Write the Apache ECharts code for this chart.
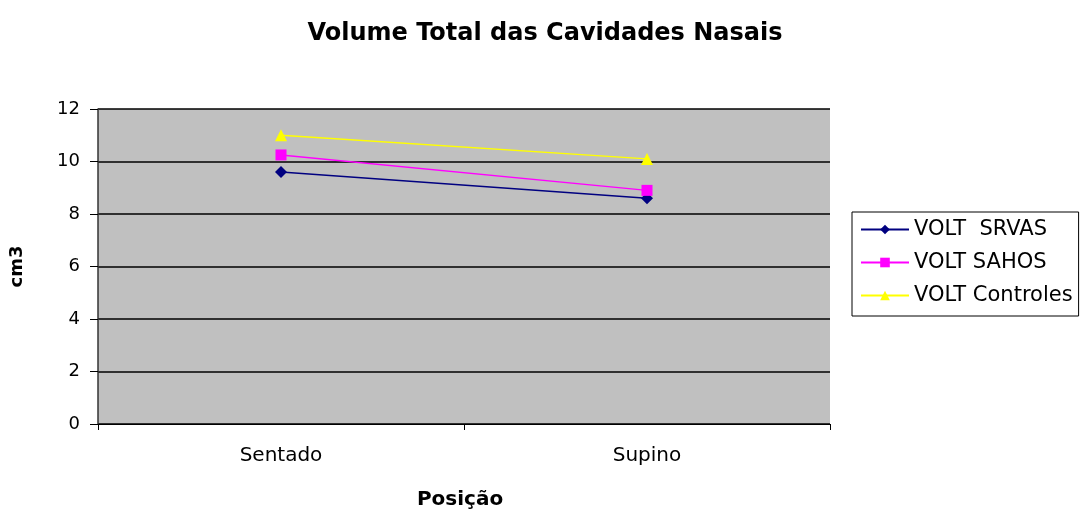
<!DOCTYPE html>
<html><head><meta charset="utf-8">
<script src="https://cdn.jsdelivr.net/npm/echarts@6/dist/echarts.min.js"></script>
<style>html,body{margin:0;padding:0;background:#fff}#c{width:1089px;height:518px}</style>
</head><body><div id="c"></div>
<script>
var categories = ['Sentado', 'Supino'];
var srvas = [9.6, 8.6];
var sahos = [10.25, 8.9];
var controles = [11.0, 10.1];
var seriesNames = ['VOLT  SRVAS', 'VOLT SAHOS', 'VOLT Controles'];

var font = 'DejaVu Sans, Verdana, sans-serif';
var chart = echarts.init(document.getElementById('c'), null, {renderer: 'canvas'});
function mk(name, data, color, symbol, size) {
  return {
    name: name, type: 'line', data: data, symbol: symbol, symbolSize: size,
    lineStyle: {color: color, width: 1.5}, itemStyle: {color: color},
    emphasis: {disabled: true}, animation: false
  };
}
chart.setOption({
  backgroundColor: '#fff',
  animation: false,
  title: {
    text: 'Volume Total das Cavidades Nasais', left: 540, top: 17, textAlign: 'center',
    textStyle: {fontFamily: font, fontSize: 24, fontWeight: 'bold', color: '#000'}
  },
  grid: {left: 97, right: 259, top: 109, bottom: 94, show: true, backgroundColor: '#C0C0C0', borderWidth: 0, containLabel: false},
  legend: {
    orient: 'vertical', left: 852, top: 212,
    padding: [7, 6, 10, 8], itemGap: 12, itemWidth: 48, itemHeight: 12,
    borderColor: '#000', borderWidth: 1, backgroundColor: '#fff',
    textStyle: {fontFamily: font, fontSize: 21, color: '#000'},
    data: seriesNames
  },
  xAxis: {
    type: 'category', data: categories, boundaryGap: true,
    name: 'Posição', nameLocation: 'middle', nameGap: 66, nameMoveOverlap: false,
    nameTextStyle: {fontFamily: font, fontSize: 20, fontWeight: 'bold', color: '#000', padding: [0, 8, 0, 0]},
    axisLine: {show: true, lineStyle: {color: '#000', width: 1}},
    axisTick: {show: true, alignWithLabel: false, length: 6, lineStyle: {color: '#000'}},
    axisLabel: {fontFamily: font, fontSize: 20, color: '#000', margin: 22},
    splitLine: {show: false}
  },
  yAxis: {
    type: 'value', min: 0, max: 12, interval: 2,
    name: 'cm3', nameLocation: 'middle', nameGap: 72, nameRotate: 90, nameMoveOverlap: false,
    nameTextStyle: {fontFamily: font, fontSize: 18, fontWeight: 'bold', color: '#000'},
    axisLine: {show: true, lineStyle: {color: '#333', width: 1.5}},
    axisTick: {show: true, inside: false, length: 8, lineStyle: {color: '#000'}},
    axisLabel: {fontFamily: font, fontSize: 18, color: '#000', margin: 18},
    splitLine: {show: true, lineStyle: {color: '#000', width: 1.5}}
  },
  series: [
    mk(seriesNames[0], srvas, '#000080', 'diamond', 12),
    mk(seriesNames[1], sahos, '#FF00FF', 'rect', 11),
    mk(seriesNames[2], controles, '#FFFF00', 'triangle', 12)
  ]
});
</script></body></html>
